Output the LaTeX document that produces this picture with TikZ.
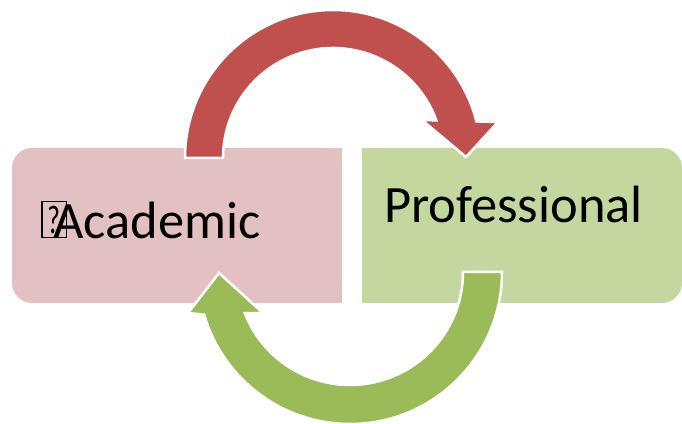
\documentclass[tikz,border=0pt]{standalone}
\usepackage{fontspec}
\usepackage{graphicx}
\setmainfont{Carlito}
\usetikzlibrary{calc}

\definecolor{acadpink}{RGB}{227,193,195}
\definecolor{profgreen}{RGB}{196,215,158}
\definecolor{arrowred}{RGB}{192,80,77}
\definecolor{arrowgreen}{RGB}{155,187,89}

\newcommand{\missingglyph}{\makebox[12pt][l]{\setlength{\fboxsep}{0pt}\setlength{\fboxrule}{1.3pt}\raisebox{2pt}{\framebox[26pt][c]{\rule{0pt}{35pt}\raisebox{3pt}{\fontsize{40}{40}\selectfont\scalebox{0.7}[1]{?}}}}}}

\begin{document}
\begin{tikzpicture}[
        x=1pt, y=1pt,
        stagebox/.style={rectangle, minimum width=#1, minimum height=155pt, inner sep=0pt, rounded corners=20pt},
        boxtext/.style={anchor=base west, inner sep=0pt, font=\fontsize{52.5}{60}\selectfont},
        bigarrow/.style={draw=white, line width=2.5pt, line join=miter}
    ]
        \useasboundingbox (0,0) rectangle (682,423);

        % Boxes: rounded on the outer side only
        \node[stagebox=330pt, fill=acadpink] (acad) at (177,197.5) {};
        \fill[acadpink] (acad.north) rectangle (acad.south east);
        \node[stagebox=320pt, fill=profgreen] (prof) at (522,197.5) {};
        \fill[profgreen] (prof.north west) rectangle (prof.south);

        % Arc centres
        \coordinate (topc) at (333,265);
        \coordinate (botc) at (350,151);

        % Top arrow: Academic -> Professional
        \filldraw[bigarrow, fill=arrowred] ($(topc)+(180:148)$) arc[start angle=180, end angle=14.3, radius=148pt]
            -- (498,301) -- (466,266) -- (422,303)
            -- ($(topc)+(20:110)$) arc[start angle=20, end angle=180, radius=110pt] -- cycle;

        % Bottom arrow: Professional -> Academic
        \filldraw[bigarrow, fill=arrowgreen] ($(botc)+(0:152)$) arc[start angle=0, end angle=-163.7, radius=152pt]
            -- (188,110) -- (219,150) -- (263,110)
            -- ($(botc)+(-158.7:113)$) arc[start angle=-158.7, end angle=0, radius=113pt] -- cycle;

        % Labels
        \node[boxtext] (acadtext) at (41,184) {\missingglyph Academic};
        \node[boxtext] (proftext) at (384,200) {Professional};

    \end{tikzpicture}
\end{document}
